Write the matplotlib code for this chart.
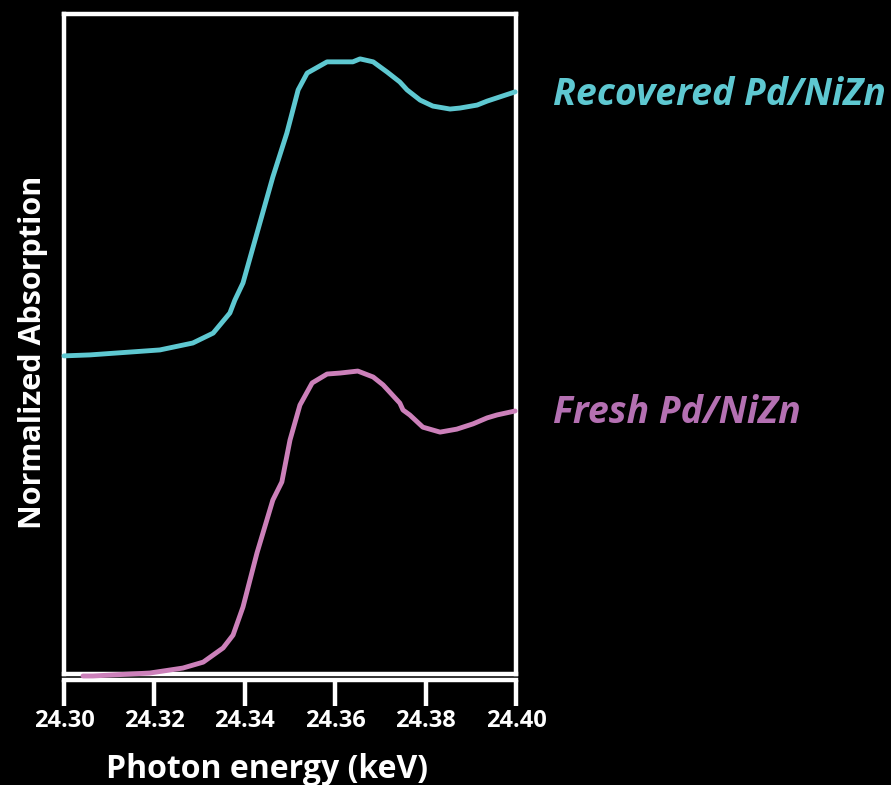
import numpy as np
import matplotlib
matplotlib.use('Agg')
import matplotlib.pyplot as plt

recovered_e = [24.3000, 24.3058, 24.3212, 24.3285, 24.3330, 24.3367, 24.3378, 24.3396,
               24.3427, 24.3462, 24.3493, 24.3518, 24.3538, 24.3582, 24.3639, 24.3655,
               24.3684, 24.3715, 24.3743, 24.3759, 24.3788, 24.3816, 24.3854, 24.3876,
               24.3914, 24.3936, 24.3998]
recovered_y = [0.964, 0.967, 0.982, 1.003, 1.033, 1.094, 1.133, 1.185,
               1.336, 1.506, 1.639, 1.770, 1.821, 1.855, 1.855, 1.864,
               1.855, 1.824, 1.794, 1.770, 1.739, 1.721, 1.712, 1.715,
               1.724, 1.736, 1.764]

fresh_e = [24.3042, 24.3064, 24.3190, 24.3263, 24.3308, 24.3352, 24.3374, 24.3396,
           24.3427, 24.3462, 24.3482, 24.3500, 24.3522, 24.3549, 24.3582, 24.3611,
           24.3650, 24.3684, 24.3706, 24.3743, 24.3750, 24.3765, 24.3794, 24.3832,
           24.3869, 24.3905, 24.3936, 24.3958, 24.3998]
fresh_y = [-0.006, -0.006, 0.003, 0.018, 0.036, 0.079, 0.118, 0.203,
           0.367, 0.527, 0.582, 0.709, 0.815, 0.882, 0.909, 0.912,
           0.918, 0.900, 0.876, 0.821, 0.800, 0.785, 0.748, 0.733,
           0.742, 0.758, 0.776, 0.785, 0.797]

xticks = [24.30, 24.32, 24.34, 24.36, 24.38, 24.40]

cyan = '#5ec8d1'
pink = '#cc80ba'
pink_txt = '#b470b2'

plt.rcParams['font.family'] = ['Open Sans', 'DejaVu Sans']

fig = plt.figure(figsize=(8.91, 7.85), dpi=100, facecolor='black')
ax = fig.add_axes([64/891, 111/785, 452/891, 660/785])
ax.set_facecolor('black')

ax.plot(recovered_e, recovered_y, color=cyan, lw=3.5, clip_on=False, zorder=5,
        solid_capstyle='round', solid_joinstyle='round')
ax.plot(fresh_e, fresh_y, color=pink, lw=3.5, clip_on=False, zorder=5,
        solid_capstyle='round', solid_joinstyle='round')

ax.set_xlim(24.30, 24.40)
ax.set_ylim(0, 2.0)
ax.set_yticks([])
for s in ax.spines.values():
    s.set_color('white')
    s.set_linewidth(3.2)
ax.tick_params(axis='x', bottom=False, labelbottom=False)

# separate axis line with ticks just below the frame
sec = ax.secondary_xaxis(-0.009)
sec.set_xticks(xticks)
sec.set_xticklabels(['%.2f' % t for t in xticks])
sec.spines['bottom'].set_color('white')
sec.spines['bottom'].set_linewidth(3.2)
sec.tick_params(axis='x', colors='white', length=19, width=3.2, direction='out', pad=2,
                labelsize=17)
for lab in sec.get_xticklabels():
    lab.set_fontweight('bold')

fig.text(267/891, 1 - 778/785, 'Photon energy (keV)', color='white', fontsize=23,
         fontweight='bold', ha='center', va='baseline')
fig.text(33/891, 1 - 352/785, 'Normalized Absorption', rotation=90, color='white',
         fontsize=22, fontweight='bold', ha='center', va='center')

fig.text(553/891, 1 - 95/785, 'Recovered Pd/NiZn', color=cyan, fontsize=27,
         fontweight='bold', style='italic', ha='left', va='center')
fig.text(553/891, 1 - 413/785, 'Fresh Pd/NiZn', color=pink_txt, fontsize=27,
         fontweight='bold', style='italic', ha='left', va='center')

fig.savefig('out.png', dpi=100, facecolor='black')
